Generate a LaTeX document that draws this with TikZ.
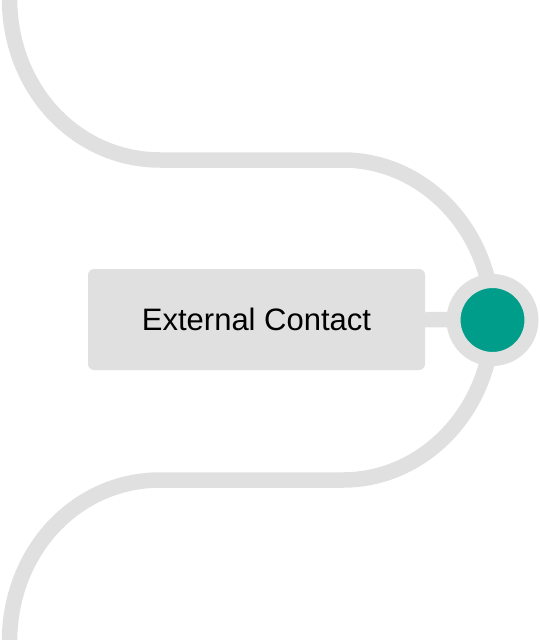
\documentclass[tikz,border=0pt]{standalone}
\usepackage{fontspec}
\setmainfont{Liberation Sans}
\usepackage{tikz}

\definecolor{trackgrey}{HTML}{E0E0E0}
\definecolor{dotgreen}{HTML}{009E8A}

\begin{document}
\begin{tikzpicture}[x=1pt,y=-1pt,
    track/.style={draw=trackgrey, line width=15.5pt},
    label/.style={fill=trackgrey, rounded corners=6pt, minimum width=337pt,
        minimum height=101pt, font=\fontsize{31}{37}\selectfont},
    stop/.style={circle, draw=trackgrey, line width=14pt, fill=dotgreen,
        minimum size=78pt, inner sep=0pt}]
    \useasboundingbox (0,0) rectangle (539,640);

    \coordinate (top) at (9.5,-2);
    \coordinate (hub) at (492.5,320);
    \coordinate (bottom) at (9.5,642);

    % the track
    \draw[track] (top) .. controls (9.5,90) and (77,160) .. (160,160)
        -- (343,160) .. controls (425,160) and (492.5,232) .. (hub)
        .. controls (492.5,408) and (425,480) .. (343,480)
        -- (160,480) .. controls (77,480) and (9.5,550) .. (bottom);

    \node[label] (contact) at (256.5,319.5) {External Contact};
    \draw[track] (contact.east) -- (hub);
    \node[stop] (dot) at (hub) {};
\end{tikzpicture}
\end{document}
